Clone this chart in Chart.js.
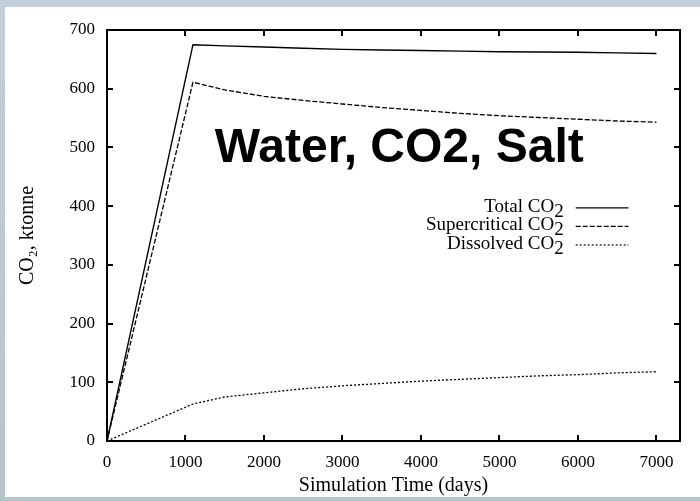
<!DOCTYPE html>
<html>
<head>
<meta charset="utf-8">
<script src="https://cdn.jsdelivr.net/npm/chart.js@4.4.1/dist/chart.umd.min.js"></script>
<style>
    html, body { margin: 0; padding: 0; }
    body {
        width: 700px; height: 501px; overflow: hidden; position: relative;
        background: linear-gradient(to bottom, #c3cfd8 0%, #b9c8d2 60%, #b3c4cf 100%);
    }
    #sheet { position: absolute; left: 5px; top: 7px; width: 695px; height: 490px; background: #ffffff; }
    #co2Chart { position: absolute; left: 0; top: 0; }
</style>
</head>
<body>
<div id="sheet"></div>
<canvas id="co2Chart" width="700" height="501"></canvas>
<script>
// values (ktonne vs days)
const days          = [0, 1095, 1500, 2000, 2500, 3000, 3500, 4000, 4500, 5000, 5500, 6000, 6500, 7000];
const totalCO2      = [0, 675, 673, 671, 669, 667, 666, 665, 664, 663, 662.5, 662, 661, 660];
const superCO2      = [0, 611, 598, 587, 580, 574, 568, 563, 558, 554, 551, 548, 545, 543];
const dissolvedCO2  = [0, 63, 75, 82, 89, 94, 98, 102, 105, 108, 111, 113, 116, 118];

const seriesNames = ["Total CO", "Supercritical CO", "Dissolved CO"];
const xTicks = [0, 1000, 2000, 3000, 4000, 5000, 6000, 7000];
const yTicks = [0, 100, 200, 300, 400, 500, 600, 700];

const serif = "'Liberation Serif', 'Times New Roman', serif";

function pts(vals) {
    return days.map((d, i) => ({ x: d, y: vals[i] }));
}

// frame, inward ticks, legend and the big label
const gnuplotLook = {
    id: "gnuplotLook",
    afterDraw(chart) {
        const ctx = chart.ctx;
        const a = chart.chartArea;
        const xs = chart.scales.x, ys = chart.scales.y;
        ctx.save();
        ctx.strokeStyle = "#000";
        ctx.lineWidth = 2;
        ctx.strokeRect(a.left, a.top, a.right - a.left, a.bottom - a.top);

        ctx.beginPath();
        xTicks.forEach(v => {
            const px = Math.round(xs.getPixelForValue(v));
            ctx.moveTo(px, a.bottom); ctx.lineTo(px, a.bottom - 6);
            ctx.moveTo(px, a.top); ctx.lineTo(px, a.top + 6);
        });
        yTicks.forEach(v => {
            const py = Math.round(ys.getPixelForValue(v));
            ctx.moveTo(a.left, py); ctx.lineTo(a.left + 6, py);
            ctx.moveTo(a.right, py); ctx.lineTo(a.right - 6, py);
        });
        ctx.stroke();

        // legend (right aligned text, sample line to the right)
        const w = a.right - a.left, h = a.bottom - a.top;
        const textRight = a.left + w * 0.797;
        const lineL = a.left + w * 0.818, lineR = a.left + w * 0.910;
        chart.data.datasets.forEach((ds, i) => {
            const y = a.top + h * 0.433 + i * 18.5;
            ctx.font = "19px " + serif;
            ctx.textBaseline = "alphabetic";
            ctx.fillStyle = "#000";
            const subW = ctx.measureText("2").width;
            ctx.textAlign = "right";
            ctx.fillText(seriesNames[i], textRight - subW, y + 4);
            ctx.textAlign = "left";
            ctx.fillText("2", textRight - subW, y + 9);
            ctx.setLineDash(ds.borderDash || []);
            ctx.lineWidth = 1.2;
            ctx.beginPath();
            ctx.moveTo(lineL, y); ctx.lineTo(lineR, y);
            ctx.stroke();
        });
        ctx.setLineDash([]);

        ctx.font = "bold 48px 'Liberation Sans', Arial, sans-serif";
        ctx.textAlign = "center";
        ctx.textBaseline = "alphabetic";
        ctx.fillStyle = "#000";
        ctx.fillText("Water, CO2, Salt", a.left + w * 0.51, a.top + h * 0.322);
        ctx.restore();
    }
};

new Chart(document.getElementById("co2Chart"), {
    type: "line",
    data: {
        datasets: [
            { label: "Total CO2", data: pts(totalCO2), borderColor: "#000", borderWidth: 1.4 },
            { label: "Supercritical CO2", data: pts(superCO2), borderColor: "#000", borderWidth: 1.3, borderDash: [5, 2] },
            { label: "Dissolved CO2", data: pts(dissolvedCO2), borderColor: "#000", borderWidth: 1.3, borderDash: [2, 2] }
        ]
    },
    options: {
        responsive: false,
        animation: false,
        devicePixelRatio: 1,
        elements: { point: { radius: 0 }, line: { tension: 0 } },
        layout: { padding: { left: 12, top: 30, right: 20, bottom: 0 } },
        plugins: { legend: { display: false }, tooltip: { enabled: false } },
        scales: {
            x: {
                type: "linear",
                min: 0,
                max: 7300,
                grid: { display: false, drawTicks: false },
                border: { display: false },
                afterBuildTicks: s => { s.ticks = xTicks.map(v => ({ value: v })); },
                afterFit: s => { s.height = 60; },
                ticks: { color: "#000", font: { family: serif, size: 17 }, padding: 11, maxRotation: 0, callback: v => String(v) },
                title: { display: true, text: "Simulation Time (days)", color: "#000", font: { family: serif, size: 20 }, padding: { top: 0, bottom: 3 } }
            },
            y: {
                min: 0,
                max: 700,
                grid: { display: false, drawTicks: false },
                border: { display: false },
                afterBuildTicks: s => { s.ticks = yTicks.map(v => ({ value: v })); },
                afterFit: s => { s.width = 95; },
                ticks: { color: "#000", font: { family: serif, size: 17 }, padding: 12, callback: v => String(v) },
                title: { display: true, text: "CO₂, ktonne", color: "#000", font: { family: serif, size: 20 }, padding: 4 }
            }
        }
    },
    plugins: [gnuplotLook]
});
</script>
</body>
</html>
